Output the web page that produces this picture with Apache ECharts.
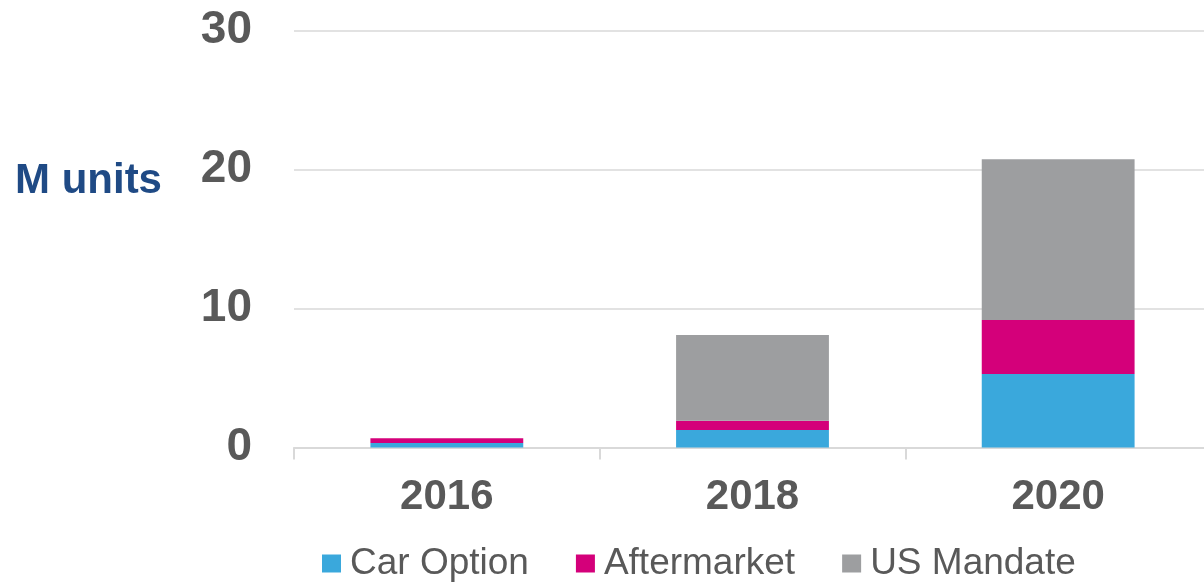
<!DOCTYPE html>
<html>
<head>
<meta charset="utf-8">
<script src="https://cdn.jsdelivr.net/npm/echarts@6/dist/echarts.min.js"></script>
<style>
html,body{margin:0;padding:0;background:#fff;overflow:hidden;width:1204px;height:588px;}
#chart{width:1212px;height:588px;}
</style>
</head>
<body>
<div id="chart"></div>
<script>
const categories = ['2016', '2018', '2020'];
const carOption = [0.32, 1.26, 5.29];
const aftermarket = [0.34, 0.67, 3.88];
const usMandate = [0.0, 6.16, 11.56];
const seriesNames = ['Car Option', 'Aftermarket', 'US Mandate'];
const colors = ['#3aa8dc', '#d4007a', '#9d9ea0'];
const yTicks = [0, 10, 20, 30];

const FONT = "'Liberation Sans', Arial, sans-serif";
const chart = echarts.init(document.getElementById('chart'));
const seriesData = [carOption, aftermarket, usMandate];

chart.setOption({
  animation: false,
  color: colors,
  grid: { left: 294, top: 30.5, width: 917, height: 417, containLabel: false },
  graphic: [{
    type: 'text', left: 15, top: 160,
    style: { text: 'M units', fill: '#1f4a85', font: 'bold 42px ' + FONT }
  }],
  legend: {
    left: 322, top: 545, padding: 0,
    itemWidth: 19, itemHeight: 18, itemGap: 47,
    icon: 'rect',
    textStyle: { fontFamily: FONT, fontSize: 37, color: '#595959', padding: [0, 0, 0, 4] },
    data: seriesNames
  },
  xAxis: {
    type: 'category',
    data: categories,
    axisLine: { lineStyle: { color: '#d9d9d9', width: 2 } },
    axisTick: { show: true, length: 12, lineStyle: { color: '#d9d9d9', width: 2 } },
    axisLabel: { fontFamily: FONT, fontSize: 42, fontWeight: 'bold', color: '#595959', margin: 29 }
  },
  yAxis: {
    type: 'value',
    min: yTicks[0], max: yTicks[yTicks.length - 1], interval: 10,
    axisLine: { show: false },
    axisTick: { show: false },
    splitLine: { lineStyle: { color: '#d9d9d9', width: 1.5 } },
    axisLabel: { fontFamily: FONT, fontSize: 46, fontWeight: 'bold', color: '#595959', margin: 42 }
  },
  series: seriesNames.map((name, i) => ({
    name: name,
    type: 'bar',
    stack: 'total',
    barWidth: '50%',
    data: seriesData[i],
    itemStyle: { color: colors[i] }
  }))
});
</script>
</body>
</html>
